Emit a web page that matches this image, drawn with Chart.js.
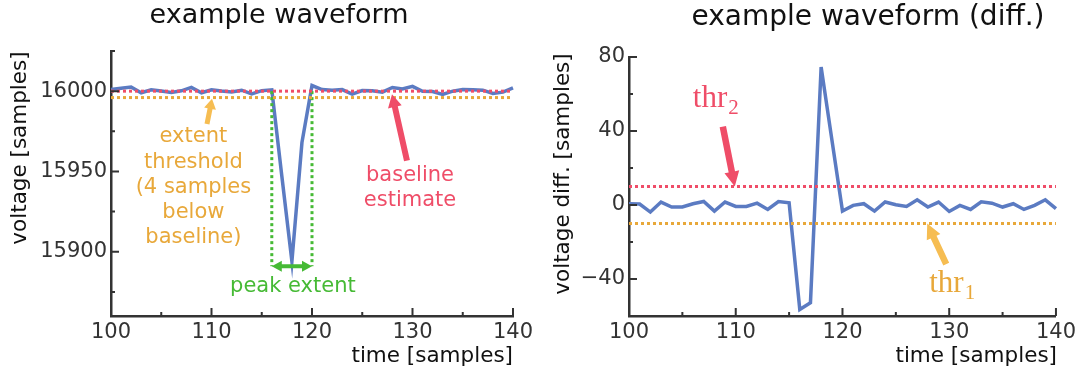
<!DOCTYPE html>
<html>
<head>
<meta charset="utf-8">
<script src="https://cdn.jsdelivr.net/npm/chart.js@4.4.0/dist/chart.umd.min.js"></script>
<style>
  html, body { margin: 0; padding: 0; background: #fff; }
  #wrap { position: relative; width: 1080px; height: 378px; }
  .panel { position: absolute; top: 0; width: 540px; height: 378px; }
</style>
</head>
<body>
<div id="wrap">
  <div class="panel" style="left:0"><canvas id="waveChart" width="540" height="378"></canvas></div>
  <div class="panel" style="left:540px"><canvas id="diffChart" width="540" height="378"></canvas></div>
</div>
<script>
// sample index (x axis of both panels)
const samples = [100, 101, 102, 103, 104, 105, 106, 107, 108, 109,
                 110, 111, 112, 113, 114, 115, 116, 117, 118, 119,
                 120, 121, 122, 123, 124, 125, 126, 127, 128, 129,
                 130, 131, 132, 133, 134, 135, 136, 137, 138, 139, 140];

// raw waveform
const voltage = [16001.0, 16001.8, 16002.6, 15999.0, 16000.9, 16000.1, 15999.2, 16000.2, 16002.3, 15999.0,
                 16000.9, 16000.1, 15999.5, 16000.6, 15998.3, 16000.3, 16000.8, 15947.0, 15894.0, 15968.0,
                 16003.5, 16001.0, 16000.6, 16001.0, 15998.2, 16000.4, 16000.3, 15999.4, 16002.3, 16001.3,
                 16003.0, 15999.9, 15999.8, 15998.0, 16000.0, 16001.0, 16000.8, 16000.6, 15998.6, 15999.4, 16002.0];

// first difference of the waveform
const voltageDiff = [0.7, 0.5, -3.8, 1.6, -1.1, -1.1, 0.7, 1.9, -3.3, 1.6,
                     -0.8, -0.8, 1.0, -2.4, 1.9, 1.2, -56.5, -52.8, 74.6, 35.5,
                     -3.3, -0.2, 0.7, -3.3, 1.6, 0.1, -0.8, 2.8, -1.1, 1.6,
                     -3.5, -0.2, -2.4, 1.7, 1.0, -1.1, 0.7, -2.4, -0.2, 2.8, -2.0];

const baseline = 16000;
const extentThreshold = 15996;   // 4 samples below baseline
const peakExtent = [116, 120];
const peakExtentLevel = 15891;
const thr1 = -10;
const thr2 = 10;

const timeRange = [100, 140];
const timeTicks = [100, 110, 120, 130, 140];
const timeMinor = [105, 115, 125, 135];
const voltageRange = [15860, 16025];
const voltageTicks = [15900, 15950, 16000];
const voltageMinor = [15875, 15925, 15975, 16025];
const diffRange = [-60, 80];
const diffTicks = [-40, 0, 40, 80];
const diffMinor = [-20, 20, 60];

const BLUE = '#5b7bc2';
const RED = '#ef4d68';
const ORANGE = '#e8a83a';
const ORANGE_ARROW = '#f6bd52';
const GREEN = '#46ba35';
const INK = '#333333';
const SANS = '"DejaVu Sans", sans-serif';
const SERIF = '"Liberation Serif", "DejaVu Serif", serif';

const pts = (xs, ys) => xs.map((x, i) => ({x: x, y: ys[i]}));
const hline = (y) => [{x: timeRange[0], y: y}, {x: timeRange[1], y: y}];
const plain = v => (v < 0 ? '\u2212' + Math.abs(v) : String(v));

function dotted(data, color, order) {
  return {data: data, borderColor: color, borderWidth: 3, borderDash: [3, 3],
          borderCapStyle: 'butt', pointRadius: 0, fill: false, clip: false, order: order};
}

// filled block arrow from (x0,y0) to the tip (x1,y1)
function blockArrow(ctx, x0, y0, x1, y1, color, shaft, headW, headL) {
  const a = Math.atan2(y1 - y0, x1 - x0);
  const len = Math.hypot(x1 - x0, y1 - y0);
  ctx.save();
  ctx.translate(x0, y0);
  ctx.rotate(a);
  ctx.fillStyle = color;
  ctx.beginPath();
  ctx.moveTo(0, -shaft / 2);
  ctx.lineTo(len - headL, -shaft / 2);
  ctx.lineTo(len - headL, -headW / 2);
  ctx.lineTo(len, 0);
  ctx.lineTo(len - headL, headW / 2);
  ctx.lineTo(len - headL, shaft / 2);
  ctx.lineTo(0, shaft / 2);
  ctx.closePath();
  ctx.fill();
  ctx.restore();
}

function text(ctx, str, x, y, font, color, align, rot) {
  ctx.save();
  ctx.font = font;
  ctx.fillStyle = color;
  ctx.textAlign = align || 'center';
  ctx.textBaseline = 'middle';
  ctx.translate(x, y);
  if (rot) ctx.rotate(rot);
  ctx.fillText(str, 0, 0);
  ctx.restore();
}

// "thr" with a subscript index, left edge at x, baseline at y
function thrLabel(ctx, sub, x, y, color) {
  ctx.save();
  ctx.fillStyle = color;
  ctx.textAlign = 'left';
  ctx.textBaseline = 'alphabetic';
  ctx.font = '31px ' + SERIF;
  ctx.fillText('thr', x, y);
  const w = ctx.measureText('thr').width;
  ctx.font = '21px ' + SERIF;
  ctx.fillText(sub, x + w + 1, y + 7);
  ctx.restore();
}

// spines get inward major/minor ticks
const axisDecor = {
  id: 'axisDecor',
  afterDraw(chart, args, o) {
    const ctx = chart.ctx;
    const xs = chart.scales.x, ys = chart.scales.y;
    const {left, bottom} = chart.chartArea;
    ctx.save();
    ctx.strokeStyle = INK;
    ctx.lineWidth = 2;
    ctx.beginPath();
    o.xMajor.forEach(v => { const p = xs.getPixelForValue(v); ctx.moveTo(p, bottom); ctx.lineTo(p, bottom - 8); });
    o.xMinor.forEach(v => { const p = xs.getPixelForValue(v); ctx.moveTo(p, bottom); ctx.lineTo(p, bottom - 4); });
    o.yMajor.forEach(v => { const p = ys.getPixelForValue(v); ctx.moveTo(left, p); ctx.lineTo(left + 8, p); });
    o.yMinor.forEach(v => { const p = ys.getPixelForValue(v); ctx.moveTo(left, p); ctx.lineTo(left + 4, p); });
    ctx.stroke();
    ctx.restore();
    if (o.extra) o.extra(chart, ctx, xs, ys);
  }
};

function axes(range, ticks, yRange, yTicks, yWidth) {
  const tickFont = {family: SANS, size: 21};
  return {
    x: {
      type: 'linear', min: range[0], max: range[1],
      grid: {display: false, drawTicks: false},
      border: {display: true, color: INK, width: 2.5},
      ticks: {color: INK, font: tickFont, padding: 4, maxRotation: 0, callback: plain},
      afterBuildTicks: s => { s.ticks = ticks.map(v => ({value: v})); },
      afterFit: s => { s.height = 62; }
    },
    y: {
      type: 'linear', min: yRange[0], max: yRange[1],
      grid: {display: false, drawTicks: false},
      border: {display: true, color: INK, width: 2.5},
      ticks: {color: INK, font: tickFont, padding: 4, callback: plain},
      afterBuildTicks: s => { s.ticks = yTicks.map(v => ({value: v})); },
      afterFit: s => { s.width = yWidth; }
    }
  };
}

const common = {
  responsive: false,
  animation: false,
  events: [],
  plugins: {legend: {display: false}, tooltip: {enabled: false}, title: {display: false}}
};

new Chart(document.getElementById('waveChart'), {
  type: 'line',
  data: {
    datasets: [
      dotted(hline(baseline), RED, 1),
      dotted(hline(extentThreshold), ORANGE, 1),
      dotted([{x: peakExtent[0], y: baseline}, {x: peakExtent[0], y: peakExtentLevel}], GREEN, 1),
      dotted([{x: peakExtent[1], y: baseline}, {x: peakExtent[1], y: peakExtentLevel}], GREEN, 1),
      {data: pts(samples, voltage), borderColor: BLUE, borderWidth: 3.5, pointRadius: 0,
       tension: 0, fill: false, clip: false, order: 2}
    ]
  },
  options: Object.assign({}, common, {
    layout: {padding: {left: 0, right: 27, top: 51, bottom: 0}},
    scales: axes(timeRange, timeTicks, voltageRange, voltageTicks, 111),
    plugins: Object.assign({}, common.plugins, {
      axisDecor: {
        xMajor: timeTicks, xMinor: timeMinor, yMajor: voltageTicks, yMinor: voltageMinor,
        extra(chart, ctx, xs, ys) {
          text(ctx, 'example waveform', 279, 16, '27px ' + SANS, '#111');
          text(ctx, 'voltage [samples]', 20, 148, '21.5px ' + SANS, '#111', 'center', -Math.PI / 2);
          text(ctx, 'time [samples]', 513, 356, '21.5px ' + SANS, '#111', 'right');

          // extent threshold note
          blockArrow(ctx, xs.getPixelForValue(109.55), ys.getPixelForValue(15979.6),
                     xs.getPixelForValue(110.05), ys.getPixelForValue(15995.2), ORANGE_ARROW, 5, 12, 10);
          const tx = xs.getPixelForValue(108.2), ty = ys.getPixelForValue(15971.6);
          ['extent', 'threshold', '(4 samples', 'below', 'baseline)'].forEach((s, i) =>
            text(ctx, s, tx, ty + i * 25.3, '21px ' + SANS, ORANGE));

          // baseline estimate note
          blockArrow(ctx, xs.getPixelForValue(129.45), ys.getPixelForValue(15956.7),
                     xs.getPixelForValue(127.96), ys.getPixelForValue(15998.1), RED, 6, 14, 13);
          const bx = xs.getPixelForValue(129.75), by = ys.getPixelForValue(15947.4);
          text(ctx, 'baseline', bx, by, '21px ' + SANS, RED);
          text(ctx, 'estimate', bx, by + 25.3, '21px ' + SANS, RED);

          // peak extent span
          const gy = ys.getPixelForValue(peakExtentLevel);
          const g0 = xs.getPixelForValue(peakExtent[0]), g1 = xs.getPixelForValue(peakExtent[1]);
          const gm = (g0 + g1) / 2;
          blockArrow(ctx, gm, gy, g0, gy, GREEN, 4, 11, 10);
          blockArrow(ctx, gm, gy, g1, gy, GREEN, 4, 11, 10);
          text(ctx, 'peak extent', xs.getPixelForValue(118.1), ys.getPixelForValue(15878.2), '21px ' + SANS, GREEN);
        }
      }
    })
  }),
  plugins: [axisDecor]
});

new Chart(document.getElementById('diffChart'), {
  type: 'line',
  data: {
    datasets: [
      dotted(hline(thr2), RED, 1),
      dotted(hline(thr1), ORANGE, 1),
      {data: pts(samples, voltageDiff), borderColor: BLUE, borderWidth: 3.5, pointRadius: 0,
       tension: 0, fill: false, clip: false, order: 2}
    ]
  },
  options: Object.assign({}, common, {
    layout: {padding: {left: 0, right: 23, top: 57, bottom: 0}},
    scales: axes(timeRange, timeTicks, diffRange, diffTicks, 89),
    plugins: Object.assign({}, common.plugins, {
      axisDecor: {
        xMajor: timeTicks, xMinor: timeMinor, yMajor: diffTicks, yMinor: diffMinor,
        extra(chart, ctx, xs, ys) {
          text(ctx, 'example waveform (diff.)', 328, 18, '28px ' + SANS, '#111');
          text(ctx, 'voltage diff. [samples]', 23, 174, '21.5px ' + SANS, '#111', 'center', -Math.PI / 2);
          text(ctx, 'time [samples]', 517, 356, '21.5px ' + SANS, '#111', 'right');

          thrLabel(ctx, '2', xs.getPixelForValue(105.98), ys.getPixelForValue(53.2), RED);
          blockArrow(ctx, xs.getPixelForValue(108.79), ys.getPixelForValue(42.4),
                     xs.getPixelForValue(109.91), ys.getPixelForValue(thr2), RED, 6.5, 15, 15);

          thrLabel(ctx, '1', xs.getPixelForValue(128.13), ys.getPixelForValue(-46.8), ORANGE);
          blockArrow(ctx, xs.getPixelForValue(129.72), ys.getPixelForValue(-32),
                     xs.getPixelForValue(127.94), ys.getPixelForValue(thr1), ORANGE_ARROW, 6.5, 15, 15);
        }
      }
    })
  }),
  plugins: [axisDecor]
});
</script>
</body>
</html>
